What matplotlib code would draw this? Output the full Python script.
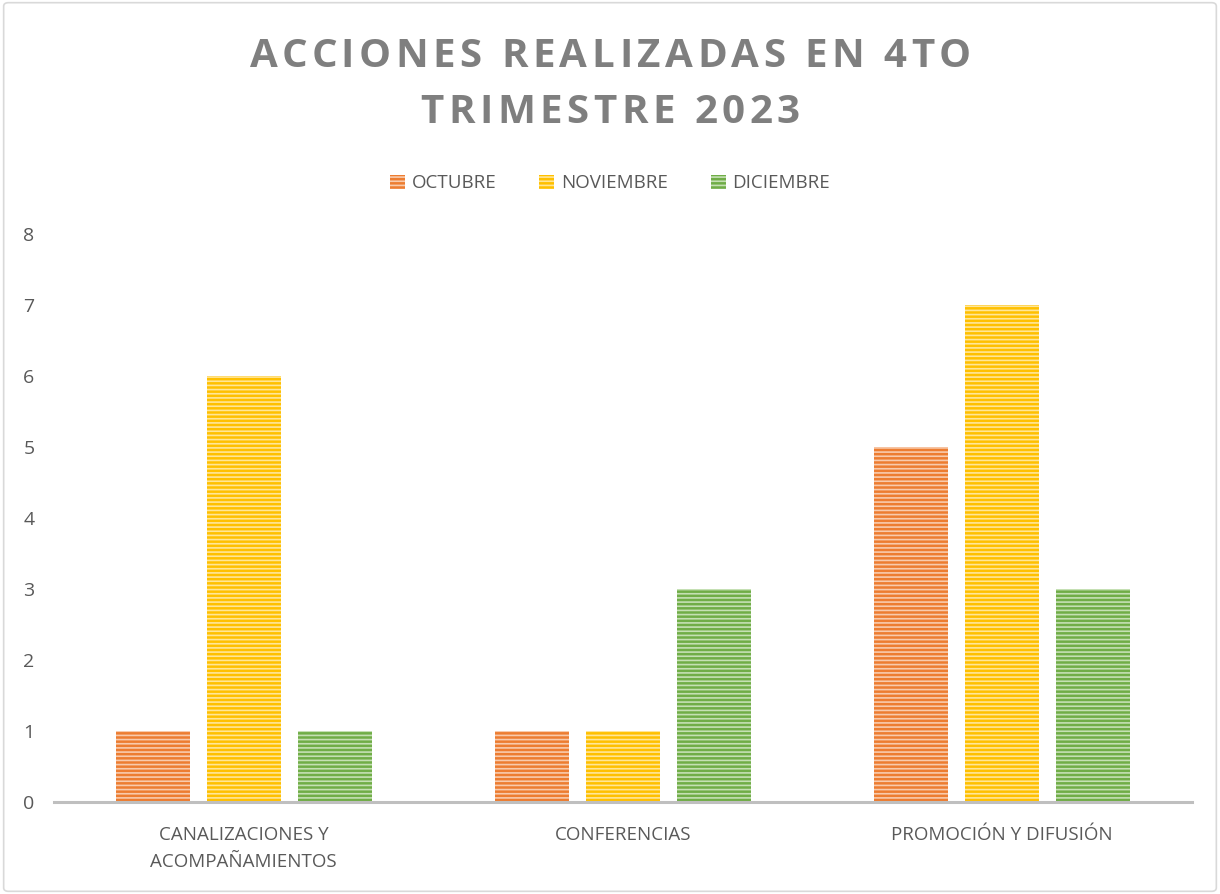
import matplotlib
matplotlib.use("Agg")
import matplotlib.pyplot as plt
import numpy as np
from matplotlib.patches import FancyBboxPatch

categorias = ["CANALIZACIONES Y\nACOMPAÑAMIENTOS", "CONFERENCIAS", "PROMOCIÓN Y DIFUSIÓN"]
meses = ["OCTUBRE", "NOVIEMBRE", "DICIEMBRE"]
octubre = [1, 1, 5]
noviembre = [6, 1, 7]
diciembre = [1, 3, 3]
titulo = ["ACCIONES REALIZADAS EN 4TO", "TRIMESTRE 2023"]

colores = ["#ED7D31", "#FFC000", "#70AD47"]
claros = ["#F8CBAD", "#FFE699", "#C5E0B4"]

plt.rcParams['font.family'] = ['Open Sans', 'DejaVu Sans']
plt.rcParams['hatch.linewidth'] = 1.2

fig = plt.figure(figsize=(12.2, 8.94), dpi=100)
ax = fig.add_axes([0.0443, 0.1029, 0.9327, 0.6353])

# borde del grafico
borde = FancyBboxPatch((0.003, 0.003), 0.994, 0.994, boxstyle="round,pad=0,rounding_size=0.004",
                       transform=fig.transFigure, facecolor="none", edgecolor="#D9D9D9", linewidth=1.2)
fig.patches.append(borde)

x = np.arange(len(categorias))
ancho = 0.195
sep = 0.24
series = [octubre, noviembre, diciembre]
for i, (vals, mes) in enumerate(zip(series, meses)):
    ax.bar(x + (i - 1) * sep, vals, ancho, color=colores[i], edgecolor=claros[i],
           hatch="----", linewidth=0, label=mes)

ax.set_xlim(-0.5, 2.5)
ax.set_ylim(0, 8)
ax.set_yticks(range(9))
ax.set_xticks(x)
ax.set_xticklabels(categorias, fontsize=13.5, color="#595959", linespacing=1.65)
ax.tick_params(axis='y', labelsize=14, colors="#595959", length=0, pad=14)
ax.tick_params(axis='x', length=0, pad=17)
for s in ["top", "right", "left"]:
    ax.spines[s].set_visible(False)
ax.spines["bottom"].set_color("#BFBFBF")
ax.spines["bottom"].set_linewidth(2.2)

# titulo con espaciado entre letras
renderer = fig.canvas.get_renderer()
estilo = dict(fontsize=29, fontweight="bold", color="#7F7F7F", va="center", ha="left")
tracking = 4.5  # px extra por letra


def ancho_texto(s):
    if not s:
        return 0.0
    t = fig.text(0, 0, s, **estilo)
    w = t.get_window_extent(renderer).width
    t.remove()
    return w


W = fig.bbox.width
for linea, yc in zip(titulo, [0.937, 0.874]):
    total = ancho_texto(linea) + tracking * (len(linea) - 1)
    x0 = (W - total) / 2
    for k, ch in enumerate(linea):
        if ch == " ":
            continue
        xp = x0 + ancho_texto(linea[:k]) + tracking * k
        fig.text(xp / W, yc, ch, **estilo)

ax.legend(loc="center", bbox_to_anchor=(0.5, 0.795), bbox_transform=fig.transFigure,
          ncol=3, frameon=False, fontsize=13.5, labelcolor="#595959",
          handlelength=0.8, handleheight=0.8, handletextpad=0.35, columnspacing=2.3)

fig.savefig("out.png", dpi=100)
